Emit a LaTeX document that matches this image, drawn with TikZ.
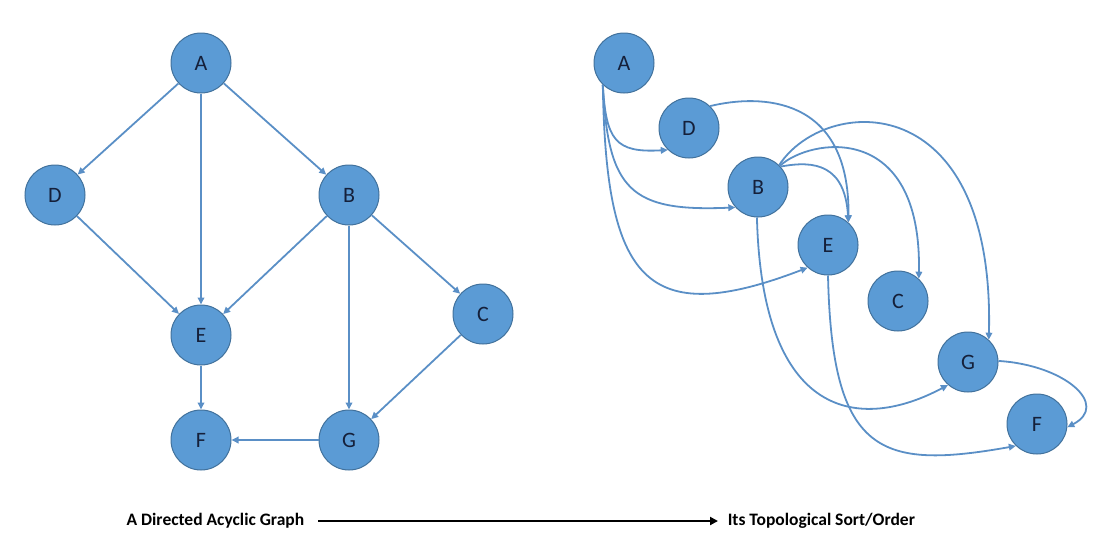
\documentclass[tikz,border=0pt]{standalone}
\usepackage{fontspec}
\setmainfont{Carlito}
\usetikzlibrary{arrows.meta}

\definecolor{nodefill}{HTML}{5B9BD5}
\definecolor{nodeline}{HTML}{41719C}
\definecolor{edgeblue}{HTML}{5A8FC6}
\definecolor{labelink}{HTML}{15203A}

\tikzset{every picture/.style={line width=1.5pt}}
\tikzset{
  vertex/.style={circle,fill=nodefill,draw=nodeline,line width=1pt,minimum size=60pt,inner sep=0pt,
    text=labelink,font=\fontsize{22}{26}\selectfont},
  edge/.style={draw=edgeblue,line width=1.8pt,-{Triangle[length=7pt,width=6.5pt]}},
  caption/.style={inner sep=0pt,font=\fontsize{17.5}{21}\selectfont\bfseries}
}

\begin{document}
\begin{tikzpicture}[x=1pt,y=1pt,yscale=-1]
\useasboundingbox (0,0) rectangle (1102,555); %set diagram frame 1102 x 555

% Left: the graph
\node [vertex] (A) at (201,63) {A};
\node [vertex] (D) at (55,195) {D};
\node [vertex] (B) at (349,195) {B};
\node [vertex] (E) at (201,335) {E};
\node [vertex] (C) at (483,314) {C};
\node [vertex] (F) at (201,440) {F};
\node [vertex] (G) at (349,440) {G};

\draw [edge] (A) -- (D);
\draw [edge] (A) -- (E);
\draw [edge] (A) -- (B);
\draw [edge] (D) -- (E);
\draw [edge] (B) -- (E);
\draw [edge] (B) -- (G);
\draw [edge] (B) -- (C);
\draw [edge] (C) -- (G);
\draw [edge] (E) -- (F);
\draw [edge] (G) -- (F);

% Right: the order
\node [vertex] (rA) at (624,63) {A};
\node [vertex] (rD) at (689,128) {D};
\node [vertex] (rB) at (758,187) {B};
\node [vertex] (rE) at (828,245) {E};
\node [vertex] (rC) at (898,301) {C};
\node [vertex] (rG) at (968,362) {G};
\node [vertex] (rF) at (1037,424) {F};

%Curves from A
\draw [edge] (rA.226) .. controls (606,140) and (615,153) .. (rD.226);
\draw [edge] (rA.226) .. controls (608,190) and (630,212) .. (rB.222);
\draw [edge] (rA.226) .. controls (606,280) and (645,330) .. (rE.228);
%Curves into E
\draw [edge] (rD.46) .. controls (760,94) and (850,95) .. (rE.48);
\draw [edge] (rB.42) .. controls (815,160) and (845,165) .. (rE.48);
%Curves from B over the top
\draw [edge] (rB.44) .. controls (810,138) and (922,120) .. (rC.47);
\draw [edge] (rB.46) .. controls (825,95) and (995,85) .. (rG.47);
%Curves below
\draw [edge] (rB.268) .. controls (762,420) and (860,432) .. (rG.229);
\draw [edge] (rE.270) .. controls (832,455) and (880,470) .. (rF.226);
\draw [edge] (rG.2) .. controls (1065,365) and (1110,405) .. (rF.354);

% Text Node
\node [caption,anchor=east] (dag) at (305,521) {A Directed Acyclic Graph};
% Text Node
\node [caption,anchor=west] (topo) at (727,521) {Its Topological Sort/Order};
%Straight Lines
\draw [line width=2.5pt,-{Triangle[length=8pt,width=8pt]}] (dag.east) ++(13,0) coordinate (s) -- ([xshift=-9pt]topo.west);

\end{tikzpicture}
\end{document}
